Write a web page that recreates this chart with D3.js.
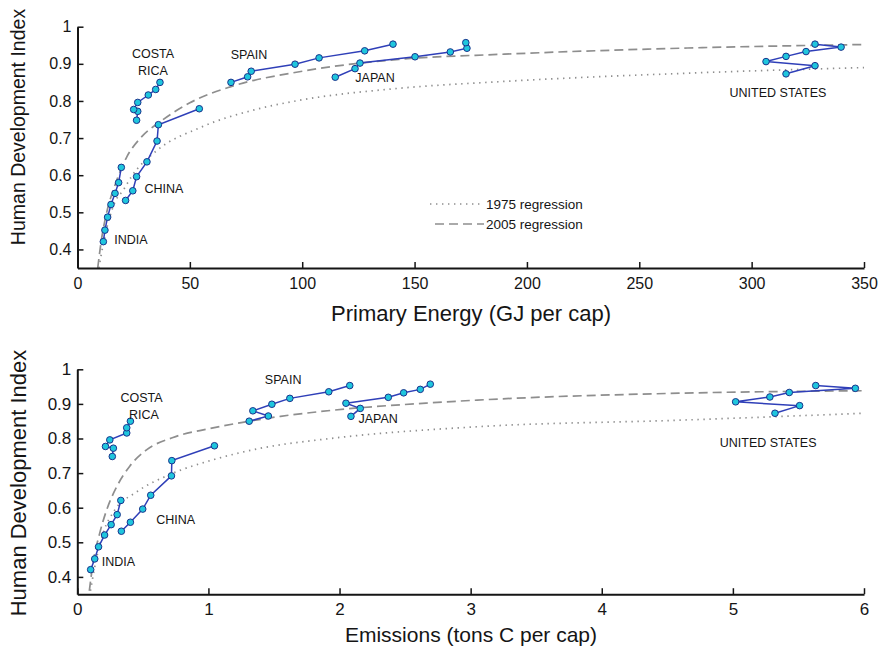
<!DOCTYPE html>
<html>
<head>
<meta charset="utf-8">
<script src="https://cdn.jsdelivr.net/npm/d3@7"></script>
<style>
  body { margin: 0; background: #fff; }
  svg { display: block; font-family: "Liberation Sans", Arial, sans-serif; }
</style>
</head>
<body>
<svg id="chart" width="881" height="649"></svg>
<script>
// Values, one point per 5 years, 1975 -> 2005
const countries = ["INDIA", "CHINA", "COSTA RICA", "SPAIN", "JAPAN", "UNITED STATES"];

const hdiIndia = [0.421, 0.452, 0.487, 0.521, 0.551, 0.580, 0.621];
const hdiChina = [0.532, 0.558, 0.596, 0.636, 0.692, 0.736, 0.779];
const hdiCosta = [0.748, 0.772, 0.777, 0.796, 0.816, 0.831, 0.850];
const hdiSpain = [0.850, 0.865, 0.880, 0.899, 0.916, 0.935, 0.953];
const hdiJapan = [0.864, 0.887, 0.902, 0.919, 0.932, 0.942, 0.957];
const hdiUS    = [0.873, 0.895, 0.906, 0.920, 0.933, 0.945, 0.953];

// primary energy, GJ per cap
const energyIndia = [11.5, 12.2, 13.4, 14.9, 16.7, 18.3, 19.5];
const energyChina = [21.4, 24.6, 26.3, 30.9, 35.4, 36.0, 54.2];
const energyCosta = [26.3, 26.8, 25.0, 26.8, 31.5, 34.8, 36.7];
const energySpain = [68.3, 75.7, 77.3, 96.8, 107.5, 127.8, 140.4];
const energyJapan = [114.7, 123.5, 125.7, 150.2, 165.9, 173.3, 172.8];
const energyUS    = [315.3, 328.2, 306.4, 315.3, 324.2, 339.8, 328.2];

// emissions, tons C per cap
const emisIndia = [0.102, 0.133, 0.162, 0.208, 0.258, 0.304, 0.332];
const emisChina = [0.336, 0.405, 0.499, 0.560, 0.718, 0.721, 1.046];
const emisCosta = [0.267, 0.275, 0.215, 0.248, 0.377, 0.377, 0.405];
const emisSpain = [1.311, 1.457, 1.339, 1.484, 1.621, 1.918, 2.078];
const emisJapan = [2.087, 2.158, 2.049, 2.372, 2.489, 2.616, 2.692];
const emisUS    = [5.321, 5.509, 5.021, 5.282, 5.430, 5.934, 5.632];

// regression curves, sampled from the figure as [x, hdi]
const energyReg1975 = [[9.5, 0.35], [12, 0.43], [16.7, 0.528], [20.4, 0.56], [24, 0.596], [35, 0.665],
  [54.5, 0.728], [80, 0.778], [99, 0.802], [143, 0.834], [188, 0.852], [268, 0.874], [350, 0.89]];
const energyReg2005 = [[9, 0.35], [10.5, 0.42], [13, 0.50], [16.5, 0.57], [22, 0.65], [28, 0.70],
  [37, 0.745], [50, 0.795], [68, 0.838], [100, 0.88], [143, 0.912], [190, 0.926], [268, 0.942], [350, 0.952]];
const emisReg1975 = [[0.1, 0.36], [0.15, 0.46], [0.2, 0.53], [0.28, 0.59], [0.45, 0.645], [0.7, 0.695],
  [1.05, 0.74], [1.4, 0.772], [1.93, 0.80], [3.05, 0.834], [4.6, 0.853], [6.0, 0.873]];
const emisReg2005 = [[0.092, 0.36], [0.12, 0.44], [0.17, 0.525], [0.23, 0.60], [0.30, 0.66], [0.40, 0.72],
  [0.52, 0.765], [0.73, 0.803], [1.0, 0.828], [1.25, 0.846], [1.55, 0.864], [1.93, 0.881], [2.69, 0.903],
  [3.05, 0.911], [4.6, 0.931], [6.0, 0.938]];

const energyTicks = [0, 50, 100, 150, 200, 250, 300, 350];
const emisTicks = [0, 1, 2, 3, 4, 5, 6];
const hdiTicks = [0.4, 0.5, 0.6, 0.7, 0.8, 0.9, 1];

// country labels, placed in data units
const energyLabels = [["COSTA", 33.6, 0.916], ["RICA", 33.6, 0.870], ["SPAIN", 76.3, 0.914],
  ["JAPAN", 132.4, 0.852], ["UNITED STATES", 311.7, 0.811], ["CHINA", 38.5, 0.553], ["INDIA", 23.8, 0.414]];
const emisLabels = [["COSTA", 0.49, 0.905], ["RICA", 0.509, 0.856], ["SPAIN", 1.57, 0.957],
  ["JAPAN", 2.295, 0.845], ["UNITED STATES", 5.269, 0.775], ["CHINA", 0.75, 0.553], ["INDIA", 0.313, 0.431]];

const hdiAll = [hdiIndia, hdiChina, hdiCosta, hdiSpain, hdiJapan, hdiUS];
const C = { line: "#2f3fb8", dot: "#1fc6dd", dotEdge: "#1a338c", reg: "#8e8e8e", axis: "#151515", text: "#151515" };

const svg = d3.select("#chart");

function drawPanel(o) {
  const x = d3.scaleLinear().domain(o.xDomain).range([o.left, o.right]);
  const y = d3.scaleLinear().domain([0.35, 1]).range([o.bottom, o.top]);
  const g = svg.append("g");

  const line = d3.line().x(d => x(d[0])).y(d => y(d[1]));
  const curve = d3.line().x(d => x(d[0])).y(d => y(d[1])).curve(d3.curveMonotoneX);

  // regressions
  g.append("path").attr("d", curve(o.reg1975))
    .attr("fill", "none").attr("stroke", C.reg).attr("stroke-width", 1.7)
    .attr("stroke-dasharray", "1.4,4.6");
  g.append("path").attr("d", curve(o.reg2005))
    .attr("fill", "none").attr("stroke", C.reg).attr("stroke-width", 1.7)
    .attr("stroke-dasharray", "9,5");

  const series = countries.map((name, i) => ({
    name, pts: o.xs[i].map((v, j) => [v, hdiAll[i][j]])
  }));

  g.selectAll(".trail").data(series).enter().append("path")
    .attr("d", d => line(d.pts))
    .attr("fill", "none").attr("stroke", C.line).attr("stroke-width", 1.5);

  g.selectAll(".pt").data(series.flatMap(d => d.pts)).enter().append("circle")
    .attr("cx", d => x(d[0])).attr("cy", d => y(d[1])).attr("r", 3.3)
    .attr("fill", C.dot).attr("stroke", C.dotEdge).attr("stroke-width", 1);

  g.selectAll(".lab").data(o.labels).enter().append("text")
    .attr("x", d => x(d[1])).attr("y", d => y(d[2]))
    .attr("text-anchor", "middle")
    .style("font-size", "12.5px").style("fill", C.text)
    .text(d => d[0]);

  // axes, ticks pointing inward
  const ax = g.append("g").attr("transform", `translate(0,${o.bottom})`)
    .call(d3.axisBottom(x).tickValues(o.xTicks).tickSizeInner(-6).tickSizeOuter(0).tickPadding(o.xPad)
      .tickFormat(d3.format("~g")));
  const ay = g.append("g").attr("transform", `translate(${o.left},0)`)
    .call(d3.axisLeft(y).tickValues(hdiTicks).tickSizeInner(-6).tickSizeOuter(0).tickPadding(6)
      .tickFormat(d3.format("~g")));
  [ax, ay].forEach(a => {
    a.select(".domain").attr("stroke", C.axis).attr("stroke-width", 2);
    a.selectAll(".tick line").attr("stroke", C.axis).attr("stroke-width", 1.5);
    a.selectAll(".tick text").style("font-size", o.tickFont).style("fill", C.text)
      .style("font-family", "'Liberation Sans', Arial, sans-serif");
  });

  g.append("text").attr("x", 471).attr("y", o.xTitleY)
    .attr("text-anchor", "middle").style("font-size", o.xTitleFont).style("fill", C.text)
    .text(o.xTitle);
  g.append("text").attr("transform", `translate(${o.yTitleX},${o.yTitleY}) rotate(-90)`)
    .attr("text-anchor", "middle").attr("dy", "0.35em")
    .style("font-size", o.yTitleFont).style("fill", C.text)
    .text("Human Development Index");

  return { g, x, y };
}

const energyPanel = drawPanel({
  xDomain: [0, 350], left: 77.5, right: 864, top: 26.7, bottom: 268,
  xs: [energyIndia, energyChina, energyCosta, energySpain, energyJapan, energyUS],
  reg1975: energyReg1975, reg2005: energyReg2005, labels: energyLabels,
  xTicks: energyTicks, xPad: 10, tickFont: "16px",
  xTitle: "Primary Energy (GJ per cap)", xTitleY: 321, xTitleFont: "22px",
  yTitleX: 18, yTitleY: 127, yTitleFont: "19.5px"
});

drawPanel({
  xDomain: [0, 6], left: 77.3, right: 864, top: 369.3, bottom: 594.2,
  xs: [emisIndia, emisChina, emisCosta, emisSpain, emisJapan, emisUS],
  reg1975: emisReg1975, reg2005: emisReg2005, labels: emisLabels,
  xTicks: emisTicks, xPad: 9, tickFont: "17px",
  xTitle: "Emissions (tons C per cap)", xTitleY: 642, xTitleFont: "21px",
  yTitleX: 18, yTitleY: 483, yTitleFont: "22px"
});

// legend (top panel only)
const leg = energyPanel.g.append("g");
const legRows = [["1975 regression", "1.4,4.6", 430, 204], ["2005 regression", "9,5", 435, 224]];
legRows.forEach(([label, dash, x0, yy]) => {
  leg.append("line").attr("x1", x0).attr("x2", 484).attr("y1", yy).attr("y2", yy)
    .attr("stroke", C.reg).attr("stroke-width", 1.5).attr("stroke-dasharray", dash);
  leg.append("text").attr("x", 486).attr("y", yy + 4.5)
    .style("font-size", "13.5px").style("fill", C.text).text(label);
});
</script>
</body>
</html>
